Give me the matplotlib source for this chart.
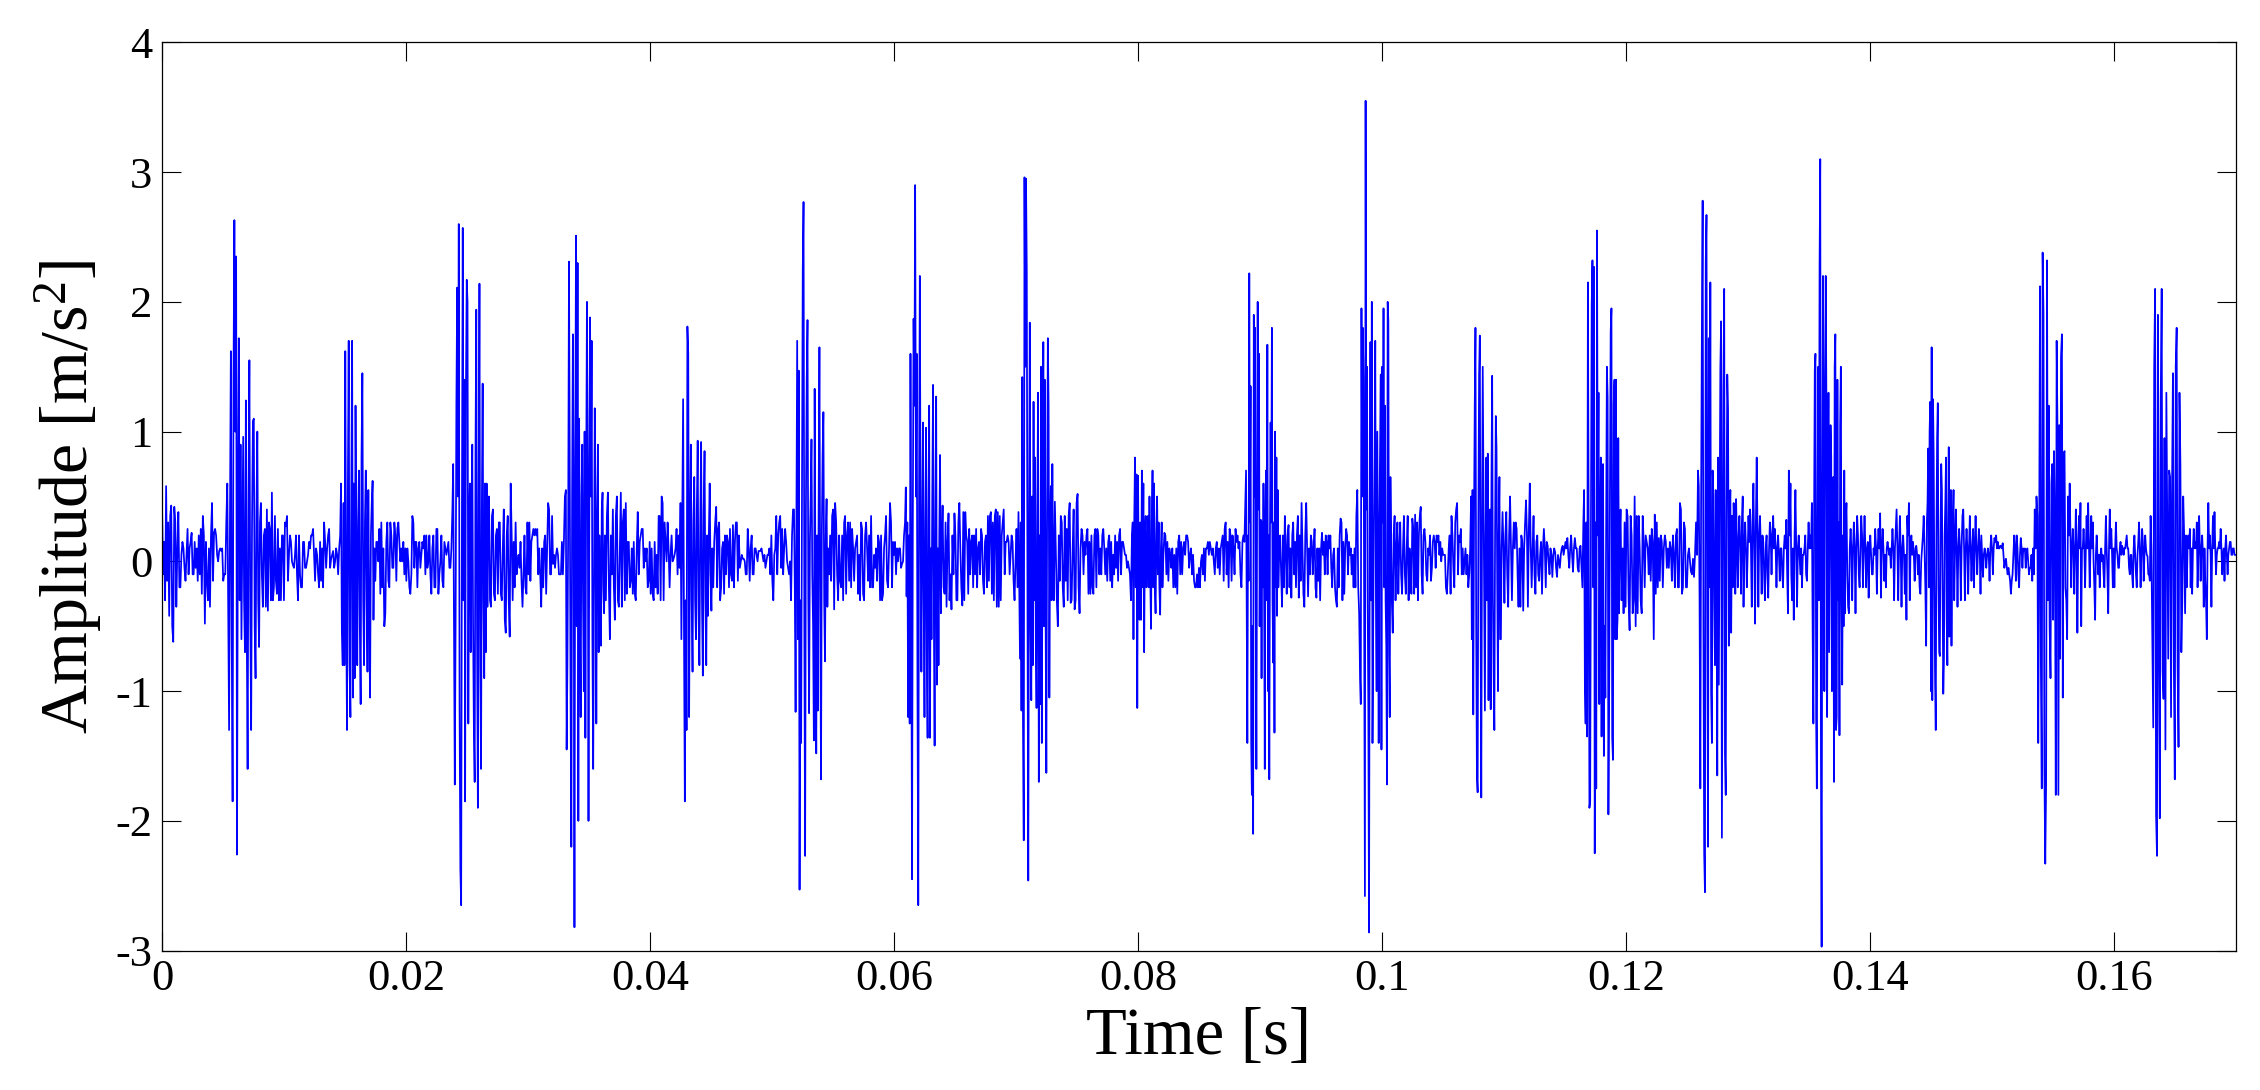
import numpy as np
import matplotlib.pyplot as plt

plt.rcParams['font.family'] = ['Liberation Serif', 'DejaVu Serif']
plt.rcParams['mathtext.fontset'] = 'custom'
plt.rcParams['mathtext.rm'] = 'Liberation Serif'
plt.rcParams['mathtext.it'] = 'Liberation Serif:italic'
plt.rcParams['axes.unicode_minus'] = False

# segment boundaries in ms (quiet / burst alternating)
seg_edges_ms = [0.0, 5.35, 8.1, 14.6, 17.4, 23.8, 26.8, 33.1, 36.3, 42.5, 45.1,
                51.8, 54.6, 60.9, 63.9, 70.2, 73.1, 79.5, 82.0, 88.8, 91.5,
                98.2, 100.8, 107.3, 109.8, 116.5, 119.55, 125.9, 128.55, 135.3,
                138.0, 144.6, 146.9, 153.5, 156.3, 163.06, 165.9, 170.0]

# amplitude values [m/s^2] per segment
quiet_00 = [0.43, -0.1, 0.15, -0.3, 0.58, -0.15, 0.3, -0.42, 0.35, 0.43, -0.5, -0.62, 0.42, 0.3, -0.35, 0.1,
            0.38, -0.2, -0.2, 0.05, 0.15, 0.1, -0.05, -0.15, 0.05, 0.25, -0.1, 0.1, 0.15, 0.22, -0.1, -0.1,
            0.15, -0.05, 0.1, -0.15, 0.2, -0.1, 0.25, -0.25, 0.35, 0.2, -0.48, 0.15, -0.15, -0.3, 0.1, -0.35,
            0.2, 0.45, -0.15, 0.22, 0.25, 0.2, 0.05, 0.0, 0.08, 0.1, 0.08, 0.1, -0.15, -0.1, -0.1, 0.3]
burst_01 = [0.6, -0.3, -1.3, 0.3, 1.62, -0.6, -1.85, 1.4, 2.63, 1.0, 2.35, -2.26, 0.5, 1.72, -0.3, 0.9,
            -0.6, 0.2, 0.96, -0.3, -0.7, 1.24, -0.5, -1.6, 0.5, 1.55, -0.4, -1.3, 0.3, 1.08, 1.1, -0.5,
            -0.9, 0.4, 1.0, -0.3, -0.66, 0.3]
quiet_01 = [0.45, -0.1, -0.35, 0.2, 0.25, -0.35, 0.4, -0.38, 0.3, 0.25, -0.3, 0.53, -0.3, -0.2, 0.35, -0.15,
            -0.25, 0.25, -0.3, 0.1, -0.3, 0.2, 0.2, -0.3, 0.3, 0.27, 0.35, -0.15, 0.05, 0.2, 0.15, 0.0,
            -0.03, -0.05, 0.05, 0.2, -0.1, -0.3, 0.2, -0.1, -0.2, -0.2, 0.15, 0.15, -0.05, -0.05, 0.0, 0.05,
            0.15, 0.1, 0.2, 0.2, 0.25, 0.05, -0.15, 0.1, 0.05, -0.1, -0.2, 0.15, -0.15, 0.1, -0.2, 0.3,
            0.15, -0.05, 0.1, 0.2, 0.25, -0.05, 0.02, 0.05, 0.08, -0.05, 0.0, 0.1, 0.05, -0.1, 0.1]
burst_02 = [0.2, 0.6, -0.55, -0.8, 0.45, -0.8, 1.62, -0.3, -1.3, 0.55, 1.7, -0.8, -1.2, 0.5, 1.7, -1.05,
            0.6, -0.9, 1.2, 0.1, -0.8, 0.3, 0.7, -0.5, -1.1, 0.8, 1.45, -0.3, -0.8, 0.3, 0.7, -0.3,
            -0.85, 0.55, -0.45, -1.05, 0.2, 0.45, 0.62, -0.45]
quiet_02 = [0.1, -0.15, 0.15, 0.15, 0.0, 0.25, -0.25, 0.3, -0.2, 0.1, -0.5, -0.4, 0.15, 0.3, -0.15, -0.2,
            0.3, 0.2, -0.05, -0.05, 0.3, 0.2, -0.15, 0.25, 0.3, 0.15, 0.0, 0.1, 0.0, 0.15, -0.1, 0.1,
            -0.15, 0.1, 0.0, -0.2, -0.25, -0.1, 0.35, 0.3, -0.05, 0.15, 0.15, -0.2, 0.1, 0.15, -0.05, 0.05,
            0.15, 0.1, 0.2, -0.1, 0.2, -0.05, 0.0, 0.2, -0.1, -0.25, 0.1, 0.2, -0.2, -0.2, 0.25, 0.25,
            -0.25, -0.1, 0.0, 0.2, -0.15, -0.2, 0.15, 0.1, 0.05, 0.1, 0.15, -0.05, -0.05, 0.1]
burst_03 = [0.4, 0.75, -0.45, -1.72, -0.5, 1.2, 2.11, 0.5, 2.6, -1.1, -2.37, -2.65, 0.4, 2.57, -0.3, 1.4,
            -1.85, 1.3, 2.17, 2.0, -1.25, 0.3, 0.6, -0.7, 0.3, 0.9, -0.5, -1.3, -1.7, 0.8, 1.94, -0.6,
            -1.9, 0.5, 2.14, -0.8, -1.6, 0.4, 1.37, -0.3, -0.9, 0.6, -0.7, 0.6, -0.35, 0.3]
quiet_03 = [0.5, -0.3, -0.35, 0.35, 0.4, -0.25, -0.3, 0.2, 0.25, -0.25, 0.3, 0.3, -0.25, -0.3, 0.1, 0.4,
            -0.45, -0.55, 0.2, 0.35, -0.3, -0.58, 0.6, 0.2, -0.3, 0.15, -0.2, 0.3, -0.1, 0.0, 0.05, -0.05,
            0.15, -0.15, -0.35, -0.1, 0.2, -0.2, -0.25, 0.3, -0.1, 0.3, -0.15, 0.15, 0.2, 0.25, 0.2, 0.25,
            0.2, 0.25, -0.1, 0.1, -0.1, -0.35, 0.1, -0.2, 0.15, 0.2, -0.25, 0.1, 0.45, 0.4, -0.1, -0.1,
            0.35, -0.02, 0.05, -0.05, 0.05, 0.1, 0.05, -0.1, -0.1, -0.1, 0.15, -0.1, 0.15, 0.5]
burst_04 = [0.55, -1.45, -0.8, 0.3, 2.31, 0.7, -1.0, -2.2, 0.5, 1.75, 0.3, -2.82, 0.8, 2.51, -0.5, 2.3,
            -2.0, 1.1, -0.4, -1.2, 0.5, 0.9, -0.3, -1.0, 1.0, -1.36, 0.6, 2.0, 0.8, -2.0, 0.3, 1.88,
            0.5, 1.7, -0.6, -1.6, -0.2, 1.18, 0.3, -1.25, 0.3, 0.9, -0.7, 0.2, -0.4, -0.65, 0.4, 0.53,
            -0.2, -0.4]
quiet_04 = [0.2, -0.3, 0.35, 0.53, -0.2, -0.6, 0.2, -0.1, 0.4, -0.2, -0.45, 0.35, 0.5, -0.3, -0.35, 0.1,
            0.53, -0.35, 0.3, 0.4, -0.3, 0.45, -0.25, 0.15, 0.15, -0.2, -0.15, 0.1, -0.25, 0.15, -0.25, -0.3,
            0.1, 0.38, -0.1, 0.15, 0.2, 0.25, 0.25, -0.05, 0.1, 0.0, 0.1, -0.2, -0.15, 0.15, -0.25, 0.1,
            -0.25, -0.3, 0.15, -0.2, 0.05, -0.25, 0.35, 0.35, -0.3, 0.5, 0.45, -0.3, 0.3, 0.15, 0.0, 0.3,
            0.1, -0.2, 0.05, 0.2, 0.0, 0.02, 0.05, 0.1, 0.25, -0.1, 0.2, -0.05]
burst_05 = [0.45, -0.6, 0.3, 1.25, -0.5, -1.85, -0.3, -1.3, 1.81, 1.6, -1.2, 0.2, 0.9, -0.3, -0.85, 0.3,
            0.65, -0.3, -0.6, 0.4, 0.93, -0.4, -0.8, 0.3, 0.92, -0.3, -0.88, 0.4, 0.85, -0.3, -0.8, 0.2,
            -0.42, 0.2, 0.6, -0.1, -0.38]
quiet_05 = [0.1, -0.2, 0.15, 0.3, 0.42, -0.2, 0.25, 0.3, -0.3, -0.2, 0.1, 0.15, -0.25, 0.2, -0.1, 0.2,
            0.15, -0.2, 0.25, -0.1, -0.15, 0.28, -0.2, 0.15, 0.3, 0.3, -0.15, 0.2, -0.05, 0.0, 0.05, 0.02,
            0.02, 0.0, -0.1, -0.1, 0.25, 0.1, -0.15, 0.1, 0.2, -0.1, -0.1, 0.1, 0.1, 0.05, 0.0, 0.08,
            0.08, 0.08, 0.1, 0.05, 0.0, 0.05, -0.05, 0.0, 0.05, 0.05, 0.1, -0.1, 0.2, -0.15, -0.3, 0.05,
            0.1, 0.35, -0.1, 0.2, 0.3, 0.35, -0.05, 0.25, -0.1, 0.1, 0.25, 0.15, 0.0, -0.05, -0.1, 0.0,
            -0.3, 0.2, 0.4]
burst_06 = [0.4, -0.2, -1.16, 0.3, 1.7, -0.6, 1.47, -2.53, -0.3, -1.4, 0.5, 2.24, 2.77, -0.5, -2.27, 0.4,
            1.4, 1.86, -0.3, -1.17, 0.15, 0.5, 0.94, -0.1, -0.5, -1.38, 1.33, -0.2, -1.48, 0.2, -1.15, 0.4,
            1.65, -0.3, -1.68, 0.2, 0.82, 1.15, -0.3, -0.77, 0.2, 0.48, -0.35]
quiet_06 = [0.1, -0.1, 0.2, -0.15, 0.35, 0.4, -0.37, 0.45, 0.3, -0.1, -0.3, 0.2, -0.15, -0.2, 0.2, -0.3,
            0.3, 0.35, -0.25, 0.2, 0.3, -0.15, 0.3, -0.2, 0.25, 0.1, -0.15, 0.1, 0.15, 0.2, -0.25, 0.05,
            -0.3, 0.3, 0.25, -0.25, -0.3, 0.2, 0.3, 0.1, -0.15, 0.2, -0.2, 0.35, -0.2, -0.2, 0.05, -0.05,
            0.1, -0.15, 0.2, 0.15, -0.3, 0.2, -0.3, -0.25, 0.1, 0.2, 0.35, -0.15, -0.2, 0.1, 0.45, 0.3,
            -0.2, 0.15, 0.05, 0.15, -0.1, 0.1, 0.0, 0.1, 0.1, -0.05, -0.02, 0.0, 0.2]
burst_07 = [0.3, 0.57, -0.27, 0.3, -1.2, 0.2, -1.25, 1.6, -0.2, -2.45, 0.3, 1.87, 1.2, 2.9, 0.5, 1.6,
            -1.0, -2.65, 0.5, 2.2, 0.3, -0.85, 0.2, 1.07, -0.3, -1.2, 0.3, 1.03, -0.8, -1.36, 0.4, 1.2,
            -1.36, 0.1, -0.6, 0.5, 1.36, -0.4, -1.42, 0.3, 1.27, -0.95, 0.1, -0.8, 0.2, 0.82, -0.4]
quiet_07 = [0.1, 0.43, -0.2, -0.25, 0.3, -0.35, 0.15, 0.37, -0.3, -0.1, -0.37, 0.2, -0.1, 0.37, 0.2, -0.3,
            -0.3, 0.3, 0.45, 0.1, -0.2, -0.34, 0.38, -0.3, 0.38, 0.2, 0.15, -0.25, 0.25, -0.1, 0.15, 0.2,
            -0.2, 0.2, -0.1, 0.25, -0.2, 0.1, 0.15, -0.1, 0.25, 0.2, -0.15, -0.25, 0.15, 0.2, -0.2, 0.35,
            -0.15, 0.35, 0.38, -0.25, 0.3, -0.3, 0.35, 0.4, -0.35, 0.38, -0.35, 0.35, -0.3, 0.2, 0.3, 0.4,
            -0.1, 0.15, 0.15, 0.2, 0.15, -0.1, 0.05, 0.2, 0.15, -0.15, -0.3, 0.0, 0.25, -0.2]
burst_08 = [0.38, -0.2, -0.75, 0.3, -1.15, 1.42, -1.27, -2.15, 2.96, 1.5, 2.95, 2.25, -0.4, -2.46, 0.3, 1.84,
            -0.5, -1.07, 0.5, -0.8, 1.23, -0.3, 0.8, -0.6, -1.13, 0.4, 1.3, -1.7, 0.2, -1.1, 1.5, -1.4,
            0.3, 1.69, -0.5, 1.4, -0.4, -1.63, 0.3, 1.72, 1.2, -1.05, 0.2, 0.58, -0.3, 0.75, -0.1]
quiet_08 = [-0.3, 0.46, 0.1, -0.3, -0.5, 0.2, -0.15, 0.35, 0.3, -0.2, -0.35, 0.35, -0.15, 0.25, -0.3, 0.35,
            0.45, -0.32, -0.3, 0.1, 0.4, -0.37, -0.3, 0.45, 0.52, -0.2, -0.4, 0.1, 0.25, 0.2, -0.1, 0.15,
            0.05, 0.2, 0.25, -0.25, 0.15, -0.25, 0.2, -0.2, -0.25, 0.2, 0.25, -0.2, 0.25, 0.2, -0.1, 0.1,
            -0.1, 0.2, 0.25, 0.1, -0.1, 0.1, -0.15, 0.15, 0.2, -0.15, 0.15, -0.2, 0.05, -0.1, 0.2, -0.05,
            0.15, -0.15, 0.2, 0.25, -0.1, 0.15, 0.15, 0.1, 0.05, 0.05, -0.05, 0.0, -0.05, -0.1, -0.3]
burst_09 = [0.2, 0.3, -0.6, 0.3, 0.8, -0.2, 0.67, -1.13, 0.66, -0.2, -0.45, 0.3, -0.45, 0.7, -0.2, 0.6,
            -0.7, 0.2, 0.35, -0.2, 0.1, 0.35, -0.2, 0.5, -0.1, -0.52, 0.3, 0.7, -0.2, 0.6, -0.2, -0.4,
            0.2, 0.5, -0.1, 0.3, -0.2, -0.41, 0.1, 0.3]
quiet_09 = [-0.2, 0.05, 0.22, 0.2, -0.1, 0.15, -0.15, 0.1, 0.05, -0.05, 0.1, -0.2, 0.05, -0.2, 0.1, -0.25,
            0.15, 0.2, -0.1, 0.15, -0.1, 0.1, 0.15, 0.05, 0.2, 0.2, 0.15, -0.05, 0.05, 0.1, -0.1, 0.05,
            -0.15, -0.2, -0.2, -0.1, -0.2, -0.05, -0.2, 0.0, 0.05, -0.1, 0.1, -0.15, 0.1, 0.1, 0.15, 0.05,
            0.15, 0.1, 0.05, 0.1, 0.0, -0.1, 0.1, 0.15, -0.05, 0.1, -0.1, 0.1, 0.15, 0.2, -0.15, 0.25,
            0.3, -0.1, 0.15, -0.2, 0.25, 0.2, -0.15, 0.2, 0.1, -0.1, 0.25, 0.15, 0.2, 0.1, 0.15, -0.1,
            -0.2, 0.15, 0.2, 0.15]
burst_10 = [0.5, 0.7, -0.42, -1.4, 0.2, -0.15, 2.22, 0.3, 1.35, -1.4, -1.8, -0.5, -2.1, 1.9, 0.5, 1.8,
            -0.3, -1.6, 0.2, 2.0, 0.4, 1.6, -0.5, 0.3, 0.32, -0.9, 0.3, -0.2, 0.6, -0.3, -1.6, 0.3,
            0.7, -0.3, 1.67, -1.0, 0.2, -1.68, 0.2, 1.07, 0.3, 1.8, -0.3, -0.78, 0.3, -1.32, 1.0, -0.2,
            0.8, -0.42, 0.55]
quiet_10 = [-0.2, 0.1, 0.2, -0.1, -0.35, 0.2, -0.2, 0.35, 0.1, -0.25, 0.2, 0.28, -0.2, 0.1, -0.28, 0.2,
            0.3, -0.1, 0.15, -0.2, 0.2, 0.35, -0.28, 0.2, -0.15, 0.45, 0.1, -0.25, -0.35, 0.2, 0.45, 0.1,
            -0.27, 0.1, -0.1, 0.2, 0.15, -0.1, 0.1, 0.25, -0.2, -0.28, 0.1, -0.15, 0.1, -0.3, 0.1, 0.22,
            0.05, 0.15, -0.1, 0.2, 0.15, -0.1, 0.2, 0.1, 0.2, -0.05, -0.2, 0.05, 0.1, -0.2, -0.3, -0.35,
            0.1, -0.2, 0.2, 0.33, 0.3, -0.3, 0.15, -0.25, 0.1, 0.25, 0.2, -0.1, 0.15, 0.05, 0.1, -0.1,
            0.05, -0.2, 0.1, -0.2, 0.35, 0.55, -0.2, -0.4]
burst_11 = [-0.9, -1.1, 1.95, 0.5, 1.8, 1.4, -0.5, -2.58, 3.55, 0.4, 1.5, -0.3, -1.15, -2.86, 0.3, 1.69,
            -0.3, 2.0, -1.4, -0.5, 0.3, 0.8, 1.7, -0.3, -1.0, 1.0, -0.3, -1.4, 0.3, 0.9, 1.44, -1.45,
            1.5, 0.3, 1.95, -0.2, 1.2, -0.3, -0.65, -1.72, 2.0, 1.85, -0.7, -1.2, 0.65, 0.2]
quiet_11 = [-0.3, -0.55, 0.2, 0.35, -0.3, 0.1, 0.3, -0.25, 0.1, 0.3, -0.1, -0.25, 0.1, 0.35, -0.1, -0.25,
            0.1, 0.35, -0.3, 0.1, 0.0, -0.25, 0.33, 0.25, -0.25, 0.36, -0.2, 0.3, -0.3, 0.2, 0.35, 0.42,
            -0.1, -0.25, 0.2, 0.25, 0.15, -0.1, -0.15, 0.1, 0.05, 0.2, -0.15, -0.05, 0.15, 0.2, 0.15, -0.05,
            0.2, 0.15, 0.2, 0.05, 0.15, 0.0, 0.1, 0.05, 0.05, 0.05, -0.2, -0.25, -0.1, 0.1, 0.2, -0.25,
            0.35, 0.2, -0.05, -0.2, 0.3, 0.4, 0.45, -0.1, 0.2, 0.15, 0.25, -0.1, 0.1, -0.1, 0.0, 0.1,
            -0.1, 0.05, -0.2, -0.1, 0.1]
burst_12 = [0.5, -0.6, 0.55, -1.18, 0.3, 1.2, 1.8, -0.5, -1.65, -1.78, 0.3, 1.43, 1.74, -0.3, -1.82, 0.2,
            1.5, 0.6, -0.4, -1.15, 0.2, 0.8, -0.3, 0.83, -1.07, 0.1, 0.4, -1.14, 0.6, 1.43, -0.3, -0.85,
            -1.3, 0.2, 1.12, 0.87, -0.2, -1.0, 0.2, 0.65, -0.6, -0.6]
quiet_12 = [0.1, 0.38, 0.1, -0.32, 0.2, 0.38, -0.1, -0.35, 0.2, 0.5, 0.1, -0.3, 0.1, 0.3, 0.1, 0.3,
            0.25, -0.1, -0.35, 0.1, -0.35, 0.2, 0.15, -0.38, 0.1, 0.3, 0.47, 0.2, -0.35, 0.25, 0.6, 0.1,
            -0.2, 0.1, 0.35, -0.1, -0.25, 0.15, 0.2, -0.1, -0.15, 0.05, 0.15, -0.25, 0.1, 0.25, 0.1, -0.2,
            0.15, 0.12, 0.0, -0.1, 0.1, 0.05, -0.12, 0.05, 0.1, 0.07, -0.05, -0.12, 0.05, 0.0, -0.05, 0.05,
            0.1, 0.12, 0.05, 0.1, 0.15, 0.1, 0.18, 0.05, -0.05, 0.1, 0.2, 0.05, -0.08, 0.1, 0.18, 0.1,
            0.1, -0.05, -0.08, 0.1, 0.12, -0.05, -0.2]
burst_13 = [0.3, 0.55, -0.95, -1.25, 0.3, -1.35, 2.15, 0.3, -1.9, -1.85, 0.3, 1.98, 2.32, -0.2, 2.27, -2.25,
            0.3, -1.75, 2.55, 0.2, 1.3, -1.1, 0.2, 0.8, -1.35, 0.3, 0.75, -1.5, -0.5, -1.05, 0.2, 1.5,
            1.26, -1.95, -1.0, 0.5, 1.77, 1.95, -1.36, -1.53, 1.22, 1.4, -0.6, 1.4, -0.6, -0.45, 0.95, -0.4,
            0.2]
quiet_13 = [0.4, -0.3, 0.1, -0.4, 0.3, -0.35, 0.4, 0.35, -0.3, -0.53, 0.35, 0.2, -0.4, -0.3, 0.5, -0.5,
            0.35, -0.4, 0.35, 0.1, -0.3, -0.4, 0.35, 0.15, -0.2, 0.2, 0.15, 0.1, -0.1, 0.2, -0.15, 0.25,
            0.15, -0.6, 0.36, -0.25, 0.3, -0.2, 0.18, -0.15, 0.2, 0.15, -0.2, 0.1, 0.2, 0.15, -0.05, 0.1,
            -0.05, 0.15, 0.1, -0.15, 0.2, 0.05, -0.2, 0.2, 0.25, -0.2, -0.2, 0.45, 0.4, -0.25, -0.2, 0.3,
            0.25, -0.2, -0.2, 0.05, 0.1, 0.0, -0.08, -0.1, 0.02, -0.12, 0.05, 0.3, 0.05]
burst_14 = [0.7, 0.58, -0.3, -1.75, 0.45, 1.78, 2.78, -0.5, -2.25, -2.55, 2.3, 2.67, -0.3, -2.2, 1.72, -0.2,
            2.15, -1.0, -1.4, 0.7, 0.5, -0.3, -0.8, 0.55, -0.2, -1.65, 0.8, -0.95, 0.2, 1.49, 1.85, -2.13,
            -0.3, 1.34, 2.1, -1.47, -1.8, 0.35, 1.44, 1.18, -0.65, 0.35]
quiet_14 = [0.55, -0.55, 0.35, -0.2, 0.45, 0.2, -0.25, 0.48, 0.1, -0.2, 0.2, 0.35, 0.1, -0.25, 0.3, 0.5,
            -0.35, 0.1, 0.3, 0.1, -0.2, 0.05, 0.35, 0.15, 0.4, 0.1, -0.35, 0.3, 0.6, 0.1, -0.48, 0.3,
            0.8, 0.2, -0.35, 0.2, 0.35, 0.1, -0.25, 0.2, 0.15, -0.1, -0.3, 0.1, 0.2, -0.1, -0.28, 0.1,
            0.3, 0.2, -0.1, 0.2, 0.35, 0.1, 0.25, 0.1, -0.2, 0.1, 0.2, 0.05, -0.15, 0.1, 0.1, -0.1,
            -0.2, 0.1, 0.2, 0.1, 0.32, -0.1, -0.4, 0.7, 0.2, 0.6, -0.1, -0.3, 0.1, -0.45, 0.2, 0.55,
            0.1, -0.35, 0.1, 0.2, 0.05, -0.1, 0.1, -0.2, 0.05, 0.05, 0.1, 0.2, -0.1, -0.15, 0.1, 0.3,
            0.1, 0.2, 0.1, 0.45]
burst_15 = [-0.6, -1.25, 0.3, 1.47, 1.6, -1.2, -1.75, 0.3, 1.5, -0.3, 2.27, 3.1, -1.5, -2.97, 0.5, 2.2,
            0.8, -1.0, 1.3, 2.2, 1.2, -1.2, 0.3, 1.3, -0.7, 0.2, 1.05, 0.8, -1.0, 0.2, 0.65, -1.7,
            1.5, 1.75, -1.3, -1.2, 1.4, -0.3, 0.3, -1.34, 1.05, 1.5, -0.3, -0.95, 0.2, -0.5, 0.7, -0.4]
quiet_15 = [0.3, 0.45, -0.1, -0.35, -0.4, 0.1, 0.25, 0.1, -0.3, 0.1, 0.3, 0.1, -0.4, 0.1, 0.35, 0.2,
            -0.1, -0.2, 0.1, 0.35, 0.2, -0.2, 0.1, 0.35, 0.1, -0.2, 0.1, 0.15, -0.28, 0.1, 0.2, 0.05,
            -0.1, -0.1, 0.1, 0.05, 0.25, 0.1, -0.25, 0.1, 0.25, 0.1, 0.37, -0.28, 0.1, 0.25, 0.1, -0.15,
            0.05, -0.2, 0.1, 0.15, 0.1, 0.05, 0.1, -0.05, 0.1, 0.25, 0.1, -0.3, 0.1, 0.25, 0.4, 0.1,
            -0.3, 0.1, 0.35, 0.1, -0.35, 0.1, 0.2, 0.05, -0.25, 0.05, -0.45, 0.35, 0.2, 0.45, -0.3, 0.1,
            0.2, 0.05, 0.15, 0.05, -0.15, 0.1, 0.12, 0.05, -0.1, 0.05, -0.2, -0.25, 0.0, 0.1, 0.2, 0.35,
            0.1, -0.2]
burst_16 = [-0.65, 0.3, 0.45, 0.87, -0.2, 1.0, 1.23, -1.0, 1.65, -1.07, 1.25, 0.8, -0.2, -0.9, -1.3, 0.2,
            0.95, 1.22, -0.2, -0.7, -0.73, 0.2, 0.75, 0.55, -0.3, -1.02, -0.75, 0.2, 0.45, 0.8, -0.45, -0.8,
            0.2, 0.88, -0.58, 0.1, 0.55, -0.65, 0.1, 0.3, 0.55]
quiet_16 = [-0.3, 0.1, 0.4, 0.1, -0.35, 0.1, 0.25, 0.1, -0.3, 0.1, 0.35, 0.4, 0.1, -0.3, 0.1, 0.25,
            0.1, -0.25, 0.1, 0.35, 0.1, -0.15, 0.1, 0.25, -0.2, 0.1, 0.35, 0.1, -0.1, 0.1, 0.25, 0.1,
            -0.25, 0.2, 0.05, -0.12, 0.05, 0.1, 0.05, -0.05, 0.05, 0.1, 0.05, -0.15, 0.1, 0.2, 0.1, -0.1,
            0.1, 0.18, 0.15, 0.2, 0.1, 0.15, 0.1, 0.1, 0.12, 0.12, 0.1, 0.14, 0.05, -0.05, 0.0, 0.02,
            -0.05, -0.1, -0.05, -0.1, -0.15, -0.25, -0.15, -0.1, 0.05, 0.2, 0.1, -0.15, 0.2, 0.1, -0.1, -0.2,
            0.05, 0.18, 0.1, -0.05, 0.1, 0.08, 0.1, -0.05, 0.05, 0.1, 0.0, -0.1, -0.05, -0.05, 0.05, -0.15,
            0.1, -0.1]
burst_17 = [0.4, 0.1, 0.5, 0.35, -1.4, 0.0, 2.12, -0.8, -1.75, 2.38, 1.9, -1.6, -2.33, -1.7, 2.32, -0.3,
            1.2, -0.5, -0.9, 0.6, 0.75, -0.45, 0.85, 0.3, -1.8, 1.7, 1.0, -1.8, 1.05, -0.75, 1.58, 1.75,
            -1.05, 0.82, 0.85, -0.2, -0.3, -0.6, 0.5]
quiet_17 = [0.2, 0.6, 0.2, -0.2, 0.1, 0.25, 0.1, -0.25, 0.1, 0.4, 0.1, -0.55, 0.1, 0.35, 0.1, 0.45,
            -0.5, 0.1, 0.1, 0.25, 0.1, -0.2, 0.1, 0.35, 0.1, 0.45, 0.1, -0.2, 0.1, 0.35, 0.1, 0.3,
            0.0, -0.2, -0.45, 0.05, 0.2, 0.05, -0.1, 0.05, -0.2, 0.05, 0.1, 0.0, 0.05, -0.1, -0.2, 0.1,
            0.35, 0.1, -0.1, -0.4, 0.1, 0.4, 0.1, 0.25, 0.05, -0.2, 0.1, -0.2, 0.1, 0.3, 0.1, 0.05,
            -0.05, -0.05, 0.1, 0.15, 0.05, 0.12, 0.1, 0.05, 0.1, 0.1, 0.15, 0.2, 0.1, 0.1, -0.05, -0.1,
            0.05, 0.05, -0.1, -0.2, 0.1, 0.2, 0.05, -0.1, -0.2, 0.05, 0.15, 0.3, 0.1, -0.2, 0.05, 0.25,
            0.15, -0.15, 0.05, 0.2, 0.1, 0.05, 0.04, -0.1, -0.1, -0.15, 0.35]
burst_18 = [0.1, -0.6, -1.28, 1.5, 2.1, -1.95, -2.27, 1.9, -0.5, -1.98, 1.27, 2.1, -0.85, -1.06, 0.95, -1.45,
            1.3, 0.3, -0.75, 0.7, 0.65, -1.2, 0.5, 1.45, -0.8, -1.68, 1.5, 1.8, -0.8, -1.43, 1.3, 0.75,
            -0.7, -0.3, 0.5, 0.2, -0.4]
quiet_18 = [0.2, -0.2, 0.1, 0.2, 0.1, 0.25, -0.2, 0.1, -0.25, 0.1, 0.25, 0.1, 0.15, 0.1, 0.3, -0.2,
            0.1, 0.35, 0.1, -0.15, 0.1, 0.2, 0.05, -0.35, 0.1, -0.15, -0.3, -0.6, 0.1, 0.45, 0.1, 0.2,
            0.05, -0.35, 0.1, 0.35, 0.1, 0.38, 0.1, -0.1, 0.05, 0.1, 0.1, 0.15, 0.1, 0.25, 0.1, -0.1,
            0.05, 0.1, -0.15, 0.1, 0.2, 0.05, -0.1, 0.05, 0.1, 0.15, 0.15, 0.05, 0.05, 0.1, 0.1, 0.05,
            0.05]

segments = [quiet_00, burst_01, quiet_01, burst_02, quiet_02, burst_03, quiet_03, burst_04,
            quiet_04, burst_05, quiet_05, burst_06, quiet_06, burst_07, quiet_07, burst_08,
            quiet_08, burst_09, quiet_09, burst_10, quiet_10, burst_11, quiet_11, burst_12,
            quiet_12, burst_13, quiet_13, burst_14, quiet_14, burst_15, quiet_15, burst_16,
            quiet_16, burst_17, quiet_17, burst_18, quiet_18]

# time axis: values inside each segment are equally spaced
t_parts = []
for k, seg in enumerate(segments):
    t_parts.append(np.linspace(seg_edges_ms[k], seg_edges_ms[k + 1], len(seg), endpoint=False))
t = np.concatenate(t_parts) / 1000.0
amp = np.concatenate([np.array(s, dtype=float) for s in segments])

fig = plt.figure(figsize=(22.6, 10.9), dpi=100)
ax = fig.add_axes([0.0717, 0.1279, 0.9177, 0.8332])
ax.plot(t, amp, color='blue', linewidth=1.25)

ax.set_xlim(0, 0.17)
ax.set_ylim(-3, 4)
xt = np.arange(0, 0.161, 0.02)
ax.set_xticks(xt)
ax.set_xticklabels(['%g' % round(v, 2) for v in xt])
ax.set_yticks(range(-3, 5))
ax.tick_params(direction='in', length=14, width=0.8, top=True, right=True, labelsize=32)
ax.tick_params(axis='x', pad=6)
ax.tick_params(axis='y', pad=7)
for sp in ax.spines.values():
    sp.set_linewidth(0.9)

ax.set_xlabel('Time [s]', fontsize=48)
ax.xaxis.label.set_va('center')
ax.xaxis.set_label_coords(0.5, -0.096)
ax.set_ylabel('Amplitude [m/s$^{2}$]', fontsize=49)
ax.yaxis.label.set_va('center')
ax.yaxis.set_label_coords(-0.0448, 0.5)

fig.savefig('out.png', dpi=100)
